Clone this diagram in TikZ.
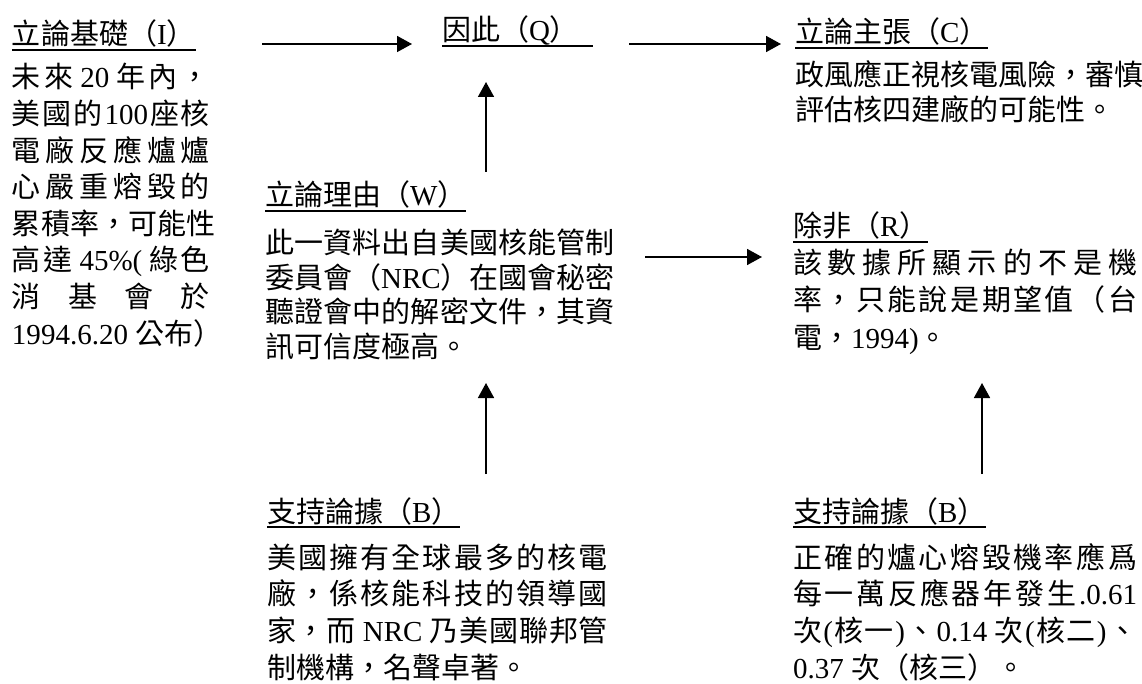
\documentclass[tikz,border=0pt]{standalone}
\usepackage{fontspec}
\setmainfont{Liberation Serif}
\newfontfamily\cjkf{Noto Sans CJK TC}
\usetikzlibrary{arrows.meta}
\newXeTeXintercharclass\CJKcls
\newcount\cjkcnt
\newcommand\setcjkrange[2]{\cjkcnt=#1\relax
  \loop\XeTeXcharclass\cjkcnt=\CJKcls\relax
  \ifnum\cjkcnt<#2\relax\advance\cjkcnt by 1\relax\repeat}
\setcjkrange{"3000}{"303F}
\setcjkrange{"4E00}{"9FFF}
\setcjkrange{"FF00}{"FFEF}
\newcommand\cjkglue{\hskip0pt plus 1fil\relax}
\XeTeXinterchartoks 0 \CJKcls={\cjkf\cjkglue}
\XeTeXinterchartoks \CJKcls 0={\rmfamily\cjkglue}
\XeTeXinterchartoks 4095 \CJKcls={\cjkf}
\XeTeXinterchartoks \CJKcls 4095={\rmfamily}
\XeTeXinterchartoks \CJKcls \CJKcls={\cjkglue}
\newcommand\jl[2]{\hbox to #1pt{#2}}
\newcommand\nl[1]{\hbox{#1}}
\newcommand\bodylines[2]{\vtop{\baselineskip=#1pt\lineskiplimit=-100pt\lineskip=0pt #2}}
\begin{document}
\XeTeXinterchartokenstate=1
\begin{tikzpicture}[x=1pt,y=-1pt,
  txt/.style={inner sep=0pt,outer sep=0pt,anchor=base west,font=\fontsize{29}{36}\selectfont},
  ul/.style={line width=1.6pt},
  arr/.style={line width=1.6pt,-{Triangle[length=15pt,width=16pt]}}]
\fill[white] (0,0) rectangle (1142,684);
\useasboundingbox (0,0) rectangle (1142,684);
% titles
\node[txt] (It) at (12,45) {立論基礎（I）};
\node[txt] (Qt) at (442,41) {因此（Q）};
\node[txt] (Ct) at (795,43) {立論主張（C）};
\node[txt] (Wt) at (265,206) {立論理由（W）};
\node[txt] (Rt) at (793,237) {除非（R）};
\node[txt] (B1t) at (267,522) {支持論據（B）};
\node[txt] (B2t) at (793,522) {支持論據（B）};
\foreach \n in {It,Ct,Wt,Rt,B1t,B2t}
  \draw[ul] ([yshift=-5pt]\n.base west) -- ([yshift=-5pt]\n.base east);
\draw[ul] ([yshift=-5pt]Qt.base west) -- ([yshift=-5pt,xshift=14pt]Qt.base east);
% bodies
\node[txt] (Ib) at (12,88) {\bodylines{36.6}{%
  \jl{198}{未來 20 年內，}
  \jl{198}{美國的100座核}
  \jl{198}{電廠反應爐爐}
  \jl{198}{心嚴重熔毀的}
  \jl{198}{累積率，可能性}
  \jl{198}{高達 45\%( 綠色}
  \jl{198}{消 基 會 於}
  \nl{1994.6.20 公布）}}};
\node[txt] (Cb) at (795,86) {\bodylines{35}{%
  \jl{347}{政風應正視核電風險，審慎}
  \nl{評估核四建廠的可能性。}}};
\node[txt] (Wb) at (265,254) {\bodylines{34.5}{%
  \jl{350}{此一資料出自美國核能管制}
  \jl{350}{委員會（NRC）在國會秘密}
  \jl{350}{聽證會中的解密文件，其資}
  \nl{訊可信度極高。}}};
\node[txt] (Rb) at (793,274) {\bodylines{37}{%
  \jl{344}{該數據所顯示的不是機}
  \jl{344}{率，只能說是期望值（台}
  \nl{電，1994)。}}};
\node[txt] (B1b) at (267,568) {\bodylines{36.7}{%
  \jl{341}{美國擁有全球最多的核電}
  \jl{341}{廠，係核能科技的領導國}
  \jl{341}{家，而 NRC 乃美國聯邦管}
  \nl{制機構，名聲卓著。}}};
\node[txt] (B2b) at (793,568) {\bodylines{36.7}{%
  \jl{344}{正確的爐心熔毀機率應爲}
  \jl{344}{每一萬反應器年發生.0.61}
  \jl{344}{次(核一)、0.14 次(核二)、}
  \nl{0.37 次（核三）。}}};
% arrow end points
\coordinate (a1s) at (262,44);  \coordinate (a1e) at (412,44);
\coordinate (a2s) at (629,44);  \coordinate (a2e) at (781,44);
\coordinate (u1s) at (486,172); \coordinate (u1e) at (486,82);
\coordinate (a3s) at (645,257); \coordinate (a3e) at (762,257);
\coordinate (u2s) at (486,474); \coordinate (u2e) at (486,383);
\coordinate (u3s) at (982,474); \coordinate (u3e) at (982,383);
\draw[arr] (a1s) -- (a1e);
\draw[arr] (a2s) -- (a2e);
\draw[arr] (u1s) -- (u1e);
\draw[arr] (a3s) -- (a3e);
\draw[arr] (u2s) -- (u2e);
\draw[arr] (u3s) -- (u3e);
\end{tikzpicture}
\end{document}
